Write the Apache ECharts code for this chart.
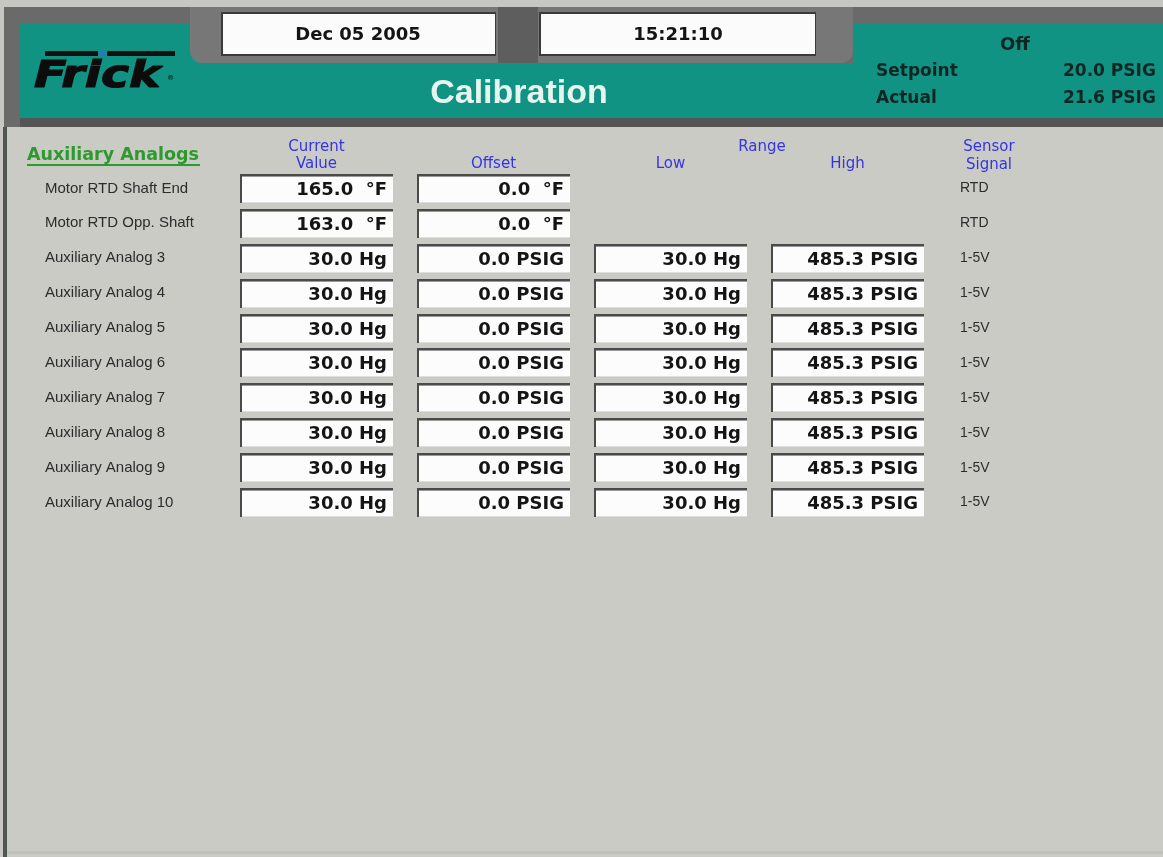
<!DOCTYPE html>
<html>
<head>
<meta charset="utf-8">
<title>Calibration</title>
<script src="https://cdn.jsdelivr.net/npm/echarts@6/dist/echarts.min.js"></script>
<style>
  html, body { margin: 0; padding: 0; background: #cbcbc6; }
  #main { width: 1163px; height: 857px; }
</style>
</head>
<body>
<div id="main"></div>
<script>
// rows and columns of the calibration table
var rowLabels = ['Motor RTD Shaft End', 'Motor RTD Opp. Shaft', 'Auxiliary Analog 3', 'Auxiliary Analog 4',
    'Auxiliary Analog 5', 'Auxiliary Analog 6', 'Auxiliary Analog 7', 'Auxiliary Analog 8',
    'Auxiliary Analog 9', 'Auxiliary Analog 10'];
var columns = ['Current\nValue', 'Offset', 'Low', 'High'];

var currentValues = [165.0, 163.0, 30.0, 30.0, 30.0, 30.0, 30.0, 30.0, 30.0, 30.0];
var currentUnits = ['°F', '°F', 'Hg', 'Hg', 'Hg', 'Hg', 'Hg', 'Hg', 'Hg', 'Hg'];
var offsetValues = [0.0, 0.0, 0.0, 0.0, 0.0, 0.0, 0.0, 0.0, 0.0, 0.0];
var offsetUnits = ['°F', '°F', 'PSIG', 'PSIG', 'PSIG', 'PSIG', 'PSIG', 'PSIG', 'PSIG', 'PSIG'];
var rangeLow = [null, null, 30.0, 30.0, 30.0, 30.0, 30.0, 30.0, 30.0, 30.0];
var rangeHigh = [null, null, 485.3, 485.3, 485.3, 485.3, 485.3, 485.3, 485.3, 485.3];
var sensorSignals = ['RTD', 'RTD', '1-5V', '1-5V', '1-5V', '1-5V', '1-5V', '1-5V', '1-5V', '1-5V'];

// header info
var dateText = 'Dec 05 2005';
var timeText = '15:21:10';
var stateText = 'Off';
var setpoint = 20.0;
var actual = 21.6;

function fmt(v, unit) {
    if (unit === '°F') return v.toFixed(1) + '  °F';
    return v.toFixed(1) + ' ' + unit;
}

// build cells: [column, row, text]
var cells = [];
rowLabels.forEach(function (name, i) {
    cells.push([0, i, fmt(currentValues[i], currentUnits[i])]);
    cells.push([1, i, fmt(offsetValues[i], offsetUnits[i])]);
    if (rangeLow[i] != null) cells.push([2, i, fmt(rangeLow[i], 'Hg')]);
    if (rangeHigh[i] != null) cells.push([3, i, fmt(rangeHigh[i], 'PSIG')]);
});

var TEAL = '#109383';
var FRAME = '#6a6a6a';
var BLUE = '#3434e6';
var DARK = '#0f2624';

var myChart = echarts.init(document.getElementById('main'));

function renderCell(params, api) {
    var c = api.coord([api.value(0), api.value(1)]);
    var w = 153, h = 29;
    var x = Math.round(c[0] - w / 2), y = Math.round(c[1] - h / 2);
    return {
        type: 'group',
        children: [
            { type: 'rect', shape: { x: x, y: y, width: w, height: h }, style: { fill: '#fcfcfc' } },
            { type: 'rect', shape: { x: x, y: y + h - 1, width: w, height: 1 }, style: { fill: '#dedede' } },
            { type: 'rect', shape: { x: x, y: y, width: w, height: 2 }, style: { fill: '#4a4a4a' } },
            { type: 'rect', shape: { x: x, y: y + 2, width: w, height: 1 }, style: { fill: '#9a9a9a' } },
            { type: 'rect', shape: { x: x, y: y, width: 2, height: h }, style: { fill: '#4a4a4a' } },
            {
                type: 'text',
                x: x + w - 6,
                y: y + h / 2 + 2,
                style: {
                    text: api.value(2),
                    align: 'right',
                    verticalAlign: 'middle',
                    fill: '#141414',
                    font: 'bold 18px "DejaVu Sans"'
                }
            }
        ]
    };
}

var option = {
    backgroundColor: '#cbcbc6',
    animation: false,
    grid: { left: 228, top: 171, width: 708, height: 349 },
    xAxis: {
        type: 'category',
        position: 'top',
        data: columns,
        axisLine: { show: false },
        axisTick: { show: false },
        splitLine: { show: false },
        axisLabel: {
            margin: -2,
            color: BLUE,
            fontFamily: 'DejaVu Sans',
            fontSize: 15,
            lineHeight: 17
        }
    },
    yAxis: [{
        type: 'category',
        inverse: true,
        data: rowLabels,
        axisLine: { show: false },
        axisTick: { show: false },
        splitLine: { show: false },
        axisLabel: {
            align: 'left',
            margin: 183,
            color: '#2c2c2c',
            fontFamily: 'Liberation Sans',
            fontSize: 15
        }
    }, {
        type: 'category',
        position: 'right',
        inverse: true,
        data: rowLabels,
        axisLine: { show: false },
        axisTick: { show: false },
        splitLine: { show: false },
        axisLabel: {
            align: 'left',
            margin: 24,
            color: '#2c2c2c',
            fontFamily: 'Liberation Sans',
            fontSize: 14,
            formatter: function (v, i) { return sensorSignals[i]; }
        }
    }],
    series: [{
        type: 'custom',
        silent: true,
        renderItem: renderCell,
        encode: { x: 0, y: 1 },
        data: cells
    }],
    graphic: [
        // header frame
        { type: 'rect', shape: { x: 0, y: 0, width: 1163, height: 7 }, style: { fill: '#c6c6c2' } },
        { type: 'rect', shape: { x: 0, y: 7, width: 1163, height: 120 }, style: { fill: FRAME } },
        { type: 'rect', shape: { x: 0, y: 7, width: 4, height: 120 }, style: { fill: '#c6c6c2' } },
        { type: 'rect', shape: { x: 20, y: 23, width: 180, height: 95 }, style: { fill: TEAL } },
        { type: 'rect', shape: { x: 20, y: 63, width: 1143, height: 55 }, style: { fill: TEAL } },
        { type: 'rect', shape: { x: 853, y: 24, width: 310, height: 94 }, style: { fill: TEAL } },
        { type: 'rect', shape: { x: 190, y: 7, width: 663, height: 56, r: [0, 0, 12, 12] }, style: { fill: '#777777' } },
        { type: 'rect', shape: { x: 498, y: 7, width: 40, height: 56 }, style: { fill: '#5e5e5e' } },
        { type: 'rect', shape: { x: 20, y: 118, width: 1143, height: 9 }, style: { fill: '#555555' } },
        // date and time boxes
        { type: 'rect', shape: { x: 221, y: 12, width: 275, height: 44 }, style: { fill: '#3a3a3a' } },
        { type: 'rect', shape: { x: 223, y: 14, width: 272, height: 40 }, style: { fill: '#fbfbfb' } },
        { type: 'rect', shape: { x: 539, y: 12, width: 277, height: 44 }, style: { fill: '#3a3a3a' } },
        { type: 'rect', shape: { x: 541, y: 14, width: 274, height: 40 }, style: { fill: '#fbfbfb' } },
        { type: 'text', x: 358, y: 35, style: { text: dateText, align: 'center', verticalAlign: 'middle', fill: '#141414', font: 'bold 18px "DejaVu Sans"' } },
        { type: 'text', x: 678, y: 35, style: { text: timeText, align: 'center', verticalAlign: 'middle', fill: '#141414', font: 'bold 18px "DejaVu Sans"' } },
        { type: 'text', x: 519, y: 94, style: { text: 'Calibration', align: 'center', verticalAlign: 'middle', fill: '#e6f6ef', font: 'bold 34px "Liberation Sans"' } },
        // status panel
        { type: 'text', x: 1015, y: 45, style: { text: stateText, align: 'center', verticalAlign: 'middle', fill: DARK, font: 'bold 18px "DejaVu Sans"' } },
        { type: 'text', x: 876, y: 72, style: { text: 'Setpoint', verticalAlign: 'middle', fill: DARK, font: 'bold 17px "DejaVu Sans"' } },
        { type: 'text', x: 876, y: 99, style: { text: 'Actual', verticalAlign: 'middle', fill: DARK, font: 'bold 17px "DejaVu Sans"' } },
        { type: 'text', x: 1063, y: 72, style: { text: setpoint.toFixed(1) + ' PSIG', verticalAlign: 'middle', fill: DARK, font: 'bold 17px "DejaVu Sans"' } },
        { type: 'text', x: 1063, y: 99, style: { text: actual.toFixed(1) + ' PSIG', verticalAlign: 'middle', fill: DARK, font: 'bold 17px "DejaVu Sans"' } },
        // Frick logo
        { type: 'rect', shape: { x: 45, y: 51, width: 53, height: 5 }, style: { fill: '#111111' } },
        { type: 'rect', shape: { x: 100, y: 51, width: 5, height: 5 }, style: { fill: '#2f6fd0' } },
        { type: 'rect', shape: { x: 107, y: 51, width: 68, height: 5 }, style: { fill: '#111111' } },
        { type: 'text', x: 34, y: 77, scaleX: 1.25, style: { text: 'Frick', verticalAlign: 'middle', fill: '#0c0c0c', font: 'italic 900 38px "DejaVu Sans"', stroke: '#0c0c0c', lineWidth: 1.2 } },
        { type: 'text', x: 167, y: 78, style: { text: '®', verticalAlign: 'middle', fill: '#0c0c0c', font: '7px "DejaVu Sans"' } },
        // body edges
        { type: 'rect', shape: { x: 0, y: 127, width: 3, height: 730 }, style: { fill: '#c8c8c4' } },
        { type: 'rect', shape: { x: 3, y: 127, width: 4, height: 730 }, style: { fill: '#505650' } },
        { type: 'rect', shape: { x: 7, y: 851, width: 1156, height: 3 }, style: { fill: '#c2c2bd' } },
        // section title and header labels
        { type: 'text', x: 27, y: 155, style: { text: 'Auxiliary Analogs', verticalAlign: 'middle', fill: '#2c9a2c', font: 'bold 17.5px "DejaVu Sans"' } },
        { type: 'rect', shape: { x: 27, y: 164, width: 173, height: 2 }, style: { fill: '#2c9a2c' } },
        { type: 'text', x: 762, y: 147, style: { text: 'Range', align: 'center', verticalAlign: 'middle', fill: BLUE, font: '15px "DejaVu Sans"' } },
        { type: 'text', x: 989, y: 156, style: { text: 'Sensor\nSignal', align: 'center', verticalAlign: 'middle', lineHeight: 18, fill: BLUE, font: '15px "DejaVu Sans"' } }
    ]
};

myChart.setOption(option);
</script>
</body>
</html>
